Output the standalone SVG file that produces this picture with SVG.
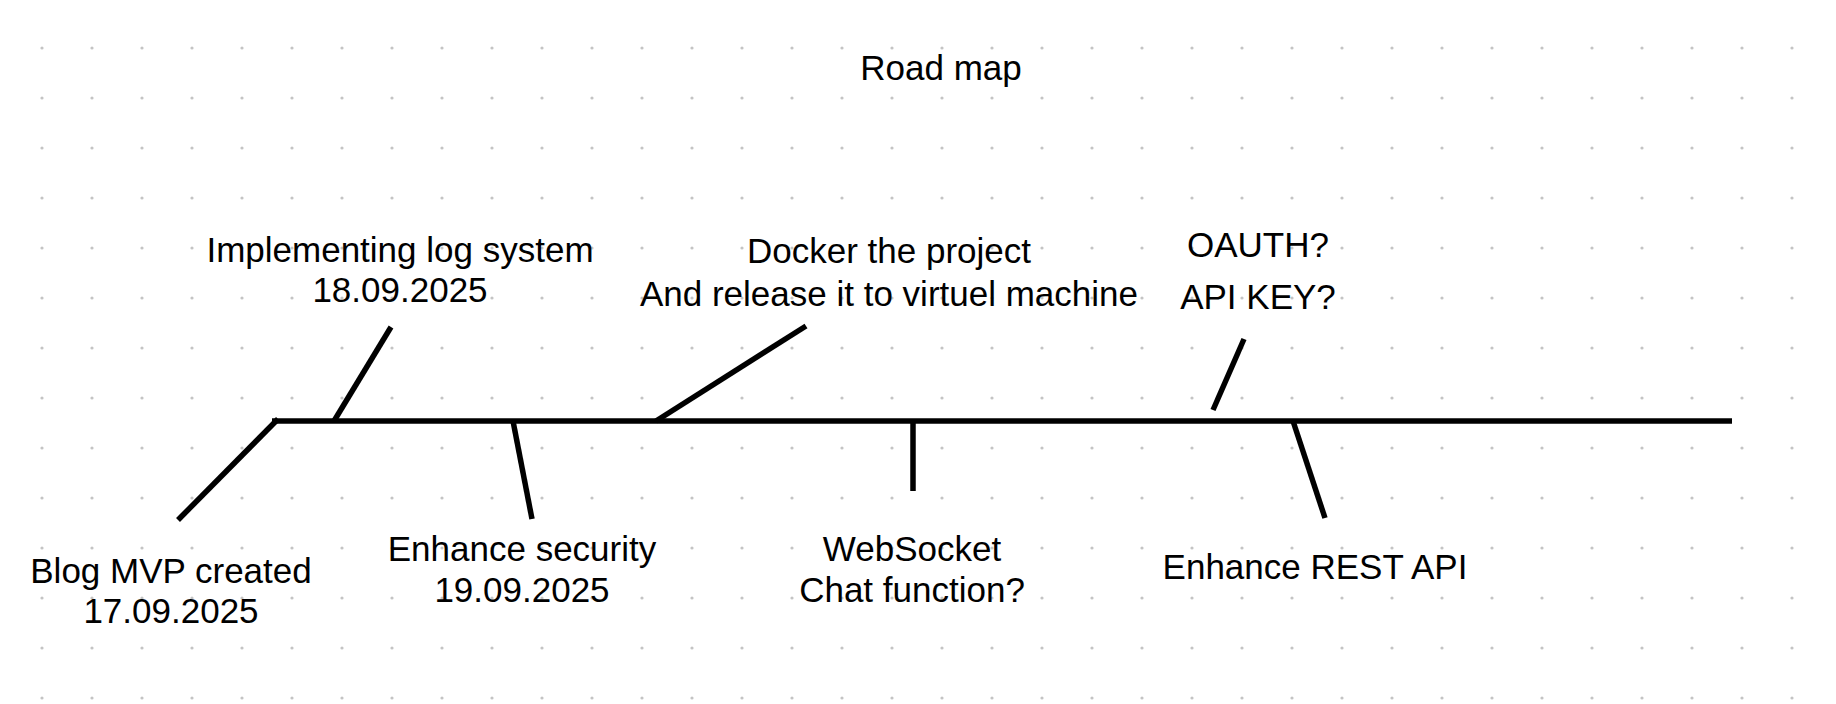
<svg xmlns="http://www.w3.org/2000/svg" width="1836" height="704" viewBox="0 0 1836 704">
<style>
text{font-family:"Liberation Sans",Arial,sans-serif;font-size:35px;fill:#000;text-anchor:middle}
.ln{stroke:#000;stroke-width:5.5;fill:none;stroke-linecap:butt}
</style>
<defs>
<pattern id="dots" x="17" y="23" width="50" height="50" patternUnits="userSpaceOnUse">
<circle cx="25" cy="25" r="1.6" fill="#c4c4c4"/>
</pattern>
</defs>
<rect width="1836" height="704" fill="#fff"/>
<rect x="17" y="23" width="1800" height="700" fill="url(#dots)"/>
<g id="title"><text x="941" y="80">Road map</text></g>
<g id="connectors">
<line class="ln" x1="272" y1="421" x2="1732" y2="421"/>
<line class="ln" x1="278" y1="419" x2="178" y2="520"/>
<line class="ln" x1="334" y1="421" x2="391" y2="327"/>
<line class="ln" x1="513" y1="421" x2="532" y2="519"/>
<line class="ln" x1="656" y1="421" x2="806" y2="326"/>
<line class="ln" x1="913" y1="421" x2="913" y2="491"/>
<line class="ln" x1="1213" y1="410" x2="1244" y2="339"/>
<line class="ln" x1="1293" y1="421" x2="1325" y2="518"/>
</g>
<g id="n-blog"><text x="171" y="583">Blog MVP created</text><text x="171" y="623">17.09.2025</text></g>
<g id="n-log"><text x="400" y="262">Implementing log system</text><text x="400" y="302">18.09.2025</text></g>
<g id="n-security"><text x="522" y="561">Enhance security</text><text x="522" y="602">19.09.2025</text></g>
<g id="n-docker"><text x="889" y="263">Docker the project</text><text x="889" y="306">And release it to virtuel machine</text></g>
<g id="n-websocket"><text x="912" y="561">WebSocket</text><text x="912" y="602">Chat function?</text></g>
<g id="n-oauth"><text x="1258" y="257">OAUTH?</text><text x="1258" y="309">API KEY?</text></g>
<g id="n-rest"><text x="1315" y="579">Enhance REST API</text></g>
</svg>
